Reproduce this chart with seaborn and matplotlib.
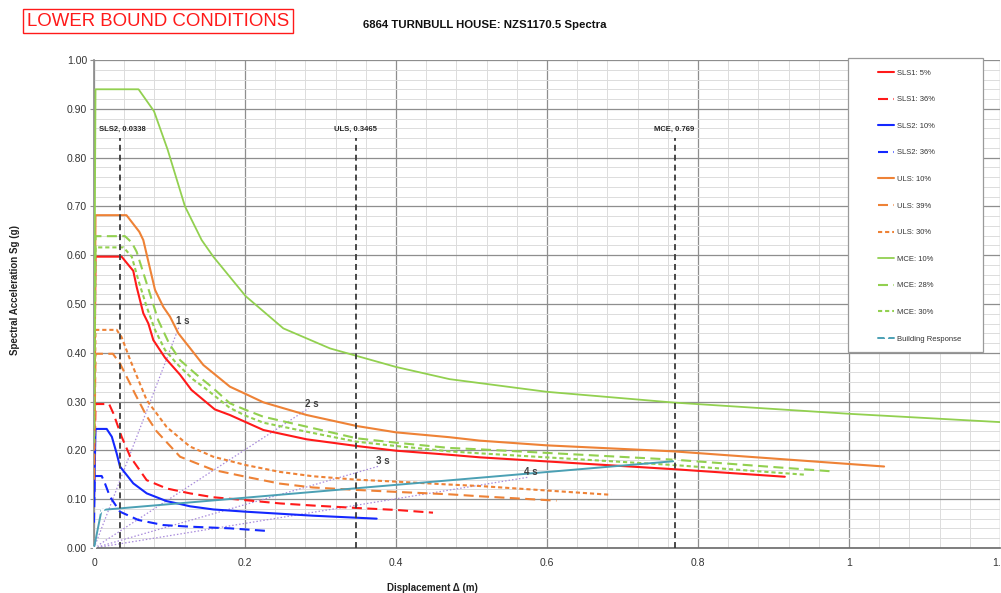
#!/usr/bin/env python3
"""
Lower bound ADRS spectra vs building response (NZS1170.5).
"""
import numpy as np
import pandas as pd
import matplotlib
matplotlib.use("Agg")
import matplotlib.pyplot as plt
from matplotlib.patches import Rectangle
from matplotlib.ticker import MultipleLocator, FormatStrFormatter
import seaborn as sns

# --- DATA ---
# displacement (m) / spectral acceleration (g)
sls1_5_x = [0, 0.002, 0.0366, 0.0477, 0.052, 0.0565, 0.0653, 0.072, 0.0786, 0.094, 0.114, 0.129,
            0.160, 0.180, 0.2009, 0.2243, 0.2817, 0.348, 0.400, 0.471, 0.511, 0.768, 0.915]
sls1_5_y = [0.21, 0.597, 0.597, 0.576, 0.568, 0.535, 0.481, 0.460, 0.426, 0.390, 0.355, 0.324,
            0.284, 0.2725, 0.258, 0.2418, 0.2227, 0.209, 0.1994, 0.191, 0.1858, 0.1615, 0.146]

sls1_36_x = [0, 0.002, 0.020, 0.0256, 0.0366, 0.048, 0.0698, 0.0962, 0.127, 0.158, 0.2009, 0.246,
             0.290, 0.348, 0.400, 0.449]
sls1_36_y = [0.103, 0.295, 0.295, 0.276, 0.228, 0.187, 0.139, 0.122, 0.112, 0.104, 0.098, 0.0914,
             0.087, 0.082, 0.078, 0.0724]

sls2_10_x = [0, 0.002, 0.0168, 0.0236, 0.030, 0.0344, 0.052, 0.0698, 0.0962, 0.113, 0.127, 0.158,
             0.2009, 0.290, 0.3744]
sls2_10_y = [0.09, 0.244, 0.244, 0.228, 0.194, 0.167, 0.1325, 0.112, 0.096, 0.0905, 0.0855, 0.079,
             0.0744, 0.0662, 0.0601]

sls2_36_x = [0, 0.001, 0.0102, 0.0146, 0.0212, 0.0344, 0.0587, 0.0918, 0.127, 0.18, 0.229]
sls2_36_y = [0.052, 0.1475, 0.1475, 0.132, 0.105, 0.0744, 0.0574, 0.047, 0.0437, 0.0403, 0.035]

uls_10_x = [0, 0.002, 0.043, 0.060, 0.0653, 0.0808, 0.0918, 0.1007, 0.1117, 0.1448, 0.180, 0.2009,
            0.2243, 0.2817, 0.348, 0.400, 0.471, 0.511, 0.600, 0.768, 1.0465]
uls_10_y = [0.24, 0.682, 0.682, 0.648, 0.631, 0.529, 0.494, 0.474, 0.44, 0.375, 0.3306, 0.3156,
            0.2985, 0.2725, 0.25, 0.237, 0.227, 0.22, 0.2103, 0.198, 0.167]

uls_39_x = [0, 0.002, 0.025, 0.0344, 0.0477, 0.054, 0.0698, 0.083, 0.114, 0.140, 0.158, 0.2009,
            0.246, 0.290, 0.348, 0.400, 0.471, 0.511, 0.6126]
uls_39_y = [0.14, 0.398, 0.398, 0.378, 0.337, 0.317, 0.270, 0.239, 0.187, 0.171, 0.160, 0.146,
            0.132, 0.124, 0.119, 0.115, 0.110, 0.106, 0.097]

uls_30_x = [0, 0.002, 0.030, 0.0366, 0.048, 0.0698, 0.0962, 0.127, 0.158, 0.2009, 0.246, 0.290,
            0.348, 0.400, 0.471, 0.511, 0.685]
uls_30_y = [0.156, 0.447, 0.447, 0.432, 0.385, 0.303, 0.248, 0.208, 0.187, 0.170, 0.156, 0.147,
            0.140, 0.136, 0.130, 0.127, 0.109]

mce_10_x = [0, 0.002, 0.059, 0.0795, 0.0976, 0.1205, 0.1426, 0.158, 0.2009, 0.2508, 0.3126, 0.400,
            0.471, 0.600, 0.768, 1.000, 1.200]
mce_10_y = [0.33, 0.94, 0.94, 0.895, 0.816, 0.70, 0.631, 0.597, 0.516, 0.450, 0.409, 0.371,
            0.346, 0.320, 0.298, 0.275, 0.258]

mce_28_x = [0, 0.002, 0.041, 0.050, 0.0565, 0.0698, 0.085, 0.0995, 0.114, 0.136, 0.156, 0.180,
            0.2009, 0.2243, 0.2817, 0.348, 0.400, 0.471, 0.511, 0.768, 0.978]
mce_28_y = [0.22, 0.639, 0.639, 0.626, 0.607, 0.542, 0.467, 0.419, 0.385, 0.355, 0.33, 0.2965,
            0.283, 0.269, 0.2486, 0.2248, 0.2158, 0.205, 0.2022, 0.181, 0.157]

mce_30_x = [0, 0.002, 0.039, 0.050, 0.0587, 0.0698, 0.0808, 0.094, 0.1095, 0.1316, 0.145, 0.180,
            0.2009, 0.2243, 0.2817, 0.348, 0.400, 0.471, 0.511, 0.768, 0.943]
mce_30_y = [0.215, 0.616, 0.616, 0.597, 0.549, 0.494, 0.447, 0.406, 0.378, 0.345, 0.33, 0.287,
            0.271, 0.2568, 0.2383, 0.2178, 0.209, 0.198, 0.194, 0.170, 0.150]

building_x = [0, 0.010, 0.769]
building_y = [0, 0.078, 0.178]

# constant-period radial lines (end points) and their labels
period_labels = ["1 s", "2 s", "3 s", "4 s"]
period_end_x = [0.113, 0.284, 0.378, 0.575]
period_end_y = [0.455, 0.286, 0.168, 0.145]

# performance point displacements
limit_labels = ["SLS2, 0.0338", "ULS, 0.3465", "MCE, 0.769"]
limit_x = [0.0338, 0.3465, 0.769]
limit_top = 0.84

# --- STYLE ---
RED, BLUE, ORANGE, GREEN = "#FF1A1A", "#1428FF", "#EE8236", "#92D050"
TEAL, PURPLE, DARK = "#4BA0B4", "#A98BDC", "#3A3A3A"
LONG_DASH = (0, (4.8, 2.6))
SHORT_DASH = (0, (2.0, 1.4))

series = [
    ("SLS1: 5%", sls1_5_x, sls1_5_y, RED, "-", 1.5),
    ("SLS1: 36%", sls1_36_x, sls1_36_y, RED, LONG_DASH, 1.5),
    ("SLS2: 10%", sls2_10_x, sls2_10_y, BLUE, "-", 1.5),
    ("SLS2: 36%", sls2_36_x, sls2_36_y, BLUE, LONG_DASH, 1.5),
    ("ULS: 10%", uls_10_x, uls_10_y, ORANGE, "-", 1.5),
    ("ULS: 39%", uls_39_x, uls_39_y, ORANGE, LONG_DASH, 1.5),
    ("ULS: 30%", uls_30_x, uls_30_y, ORANGE, SHORT_DASH, 1.5),
    ("MCE: 10%", mce_10_x, mce_10_y, GREEN, "-", 1.3),
    ("MCE: 28%", mce_28_x, mce_28_y, GREEN, LONG_DASH, 1.5),
    ("MCE: 30%", mce_30_x, mce_30_y, GREEN, SHORT_DASH, 1.5),
]

sns.set_theme(style="white")
plt.rcParams["font.family"] = ["Liberation Sans", "DejaVu Sans"]

W, H = 1001, 593
fig = plt.figure(figsize=(W / 100, H / 100), dpi=100)
ax = fig.add_axes([94 / W, (H - 548) / H, 906 / W, 488 / H])

# grid
ax.set_xlim(0, 1.2)
ax.set_ylim(0, 1.0)
ax.xaxis.set_major_locator(MultipleLocator(0.2))
ax.xaxis.set_minor_locator(MultipleLocator(0.04))
ax.yaxis.set_major_locator(MultipleLocator(0.1))
ax.yaxis.set_minor_locator(MultipleLocator(0.02))
ax.grid(which="major", color="#8E8E8E", lw=0.9, zorder=0)
ax.grid(which="minor", color="#DCDCDC", lw=0.7, zorder=0)
ax.set_axisbelow(True)
ax.yaxis.set_major_formatter(FormatStrFormatter("%.2f"))
ax.xaxis.set_major_formatter(lambda v, p: f"{v:g}")

# constant-period lines
for lab, ex, ey in zip(period_labels, period_end_x, period_end_y):
    sns.lineplot(x=[0, ex], y=[0, ey], ax=ax, color=PURPLE, lw=0.9,
                 linestyle=(0, (1.2, 1.6)), sort=False, estimator=None, zorder=2)
    ax.text(ex - 0.005, ey + 0.01, lab, fontsize=7, fontweight="bold",
            color="#404040", ha="left", va="center", zorder=6)

# spectra
for lab, xs, ys, col, ls, lw in series:
    sns.lineplot(x=xs, y=ys, ax=ax, color=col, lw=lw, linestyle=ls,
                 sort=False, estimator=None, label=lab, zorder=3)

# building response
sns.lineplot(x=building_x, y=building_y, ax=ax, color=TEAL, lw=1.4, marker="x",
             markersize=5, markeredgewidth=1.0, sort=False, estimator=None,
             label="Building Response", zorder=4, clip_on=False)

# performance point verticals
for i, (lab, lx) in enumerate(zip(limit_labels, limit_x)):
    ax.plot([lx, lx], [0, limit_top], color=DARK, lw=1.3,
            linestyle=(0, (3.3, 2.2)), zorder=5)
    if i == 0:
        ax.text(0.0065, limit_top + 0.018, lab, fontsize=5.5, fontweight="bold",
                color="#262626", ha="left", va="center")
    else:
        ax.text(lx, limit_top + 0.018, lab, fontsize=5.5, fontweight="bold",
                color="#262626", ha="center", va="center")

# legend inside its own box
ax.add_patch(Rectangle((0.8322, 0.4016), 0.149, 0.6024, transform=ax.transAxes,
                       facecolor="white", edgecolor="#9A9A9A", lw=0.9, zorder=7,
                       clip_on=False))
handles, labels = ax.get_legend_handles_labels()
leg = ax.legend(handles, labels, loc="upper left", bbox_to_anchor=(0.865, 0.981),
                frameon=False, fontsize=5.5, labelspacing=2.52, handlelength=2.2,
                handletextpad=0.3, borderpad=0, borderaxespad=0)
leg.set_zorder(8)
for t in leg.get_texts():
    t.set_color("#333333")

# axes cosmetics
sns.despine(ax=ax, top=True, right=True)
ax.spines["left"].set_color("#8E8E8E")
ax.spines["bottom"].set_color("#6E6E6E")
ax.tick_params(axis="y", which="major", length=3, width=0.8, color="#8E8E8E",
               labelsize=7.5, labelcolor="#333333", pad=2, left=True)
ax.tick_params(axis="x", which="major", length=0, labelsize=7.5,
               labelcolor="#333333", pad=7)
ax.tick_params(which="minor", length=0)

ax.set_xlabel("Displacement \u0394 (m)", fontsize=7, fontweight="bold", color="#222222")
ax.set_ylabel("Spectral Acceleration Sg (g)", fontsize=7, fontweight="bold", color="#222222")
ax.xaxis.set_label_coords((432 - 94) / 906, (548 - 583) / 488)
ax.yaxis.set_label_coords((20 - 94) / 906, (548 - 290) / 488)

fig.text(485 / W, 1 - 25 / H, "6864 TURNBULL HOUSE: NZS1170.5 Spectra", fontsize=8.2,
         fontweight="bold", color="#111111", ha="center", va="center")
fig.text(158 / W, 1 - 21 / H, "LOWER BOUND CONDITIONS", fontsize=13.4, color="#FF1A1A",
         ha="center", va="center",
         bbox=dict(boxstyle="square,pad=0.2", facecolor="white", edgecolor="#FF1A1A", lw=1.0))

fig.savefig("out.png", dpi=100)
plt.close(fig)
